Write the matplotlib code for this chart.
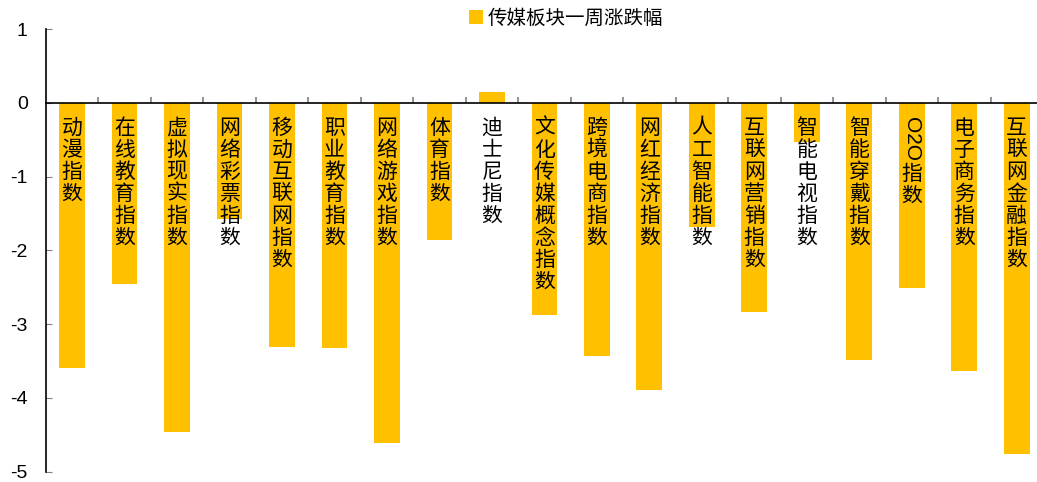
import matplotlib.pyplot as plt
import numpy as np
from matplotlib.patches import Patch

plt.rcParams['font.family'] = ['Noto Sans CJK SC', 'DejaVu Sans']

categories = ['动漫指数', '在线教育指数', '虚拟现实指数', '网络彩票指数', '移动互联网指数',
              '职业教育指数', '网络游戏指数', '体育指数', '迪士尼指数', '文化传媒概念指数',
              '跨境电商指数', '网红经济指数', '人工智能指数', '互联网营销指数', '智能电视指数',
              '智能穿戴指数', 'O2O指数', '电子商务指数', '互联网金融指数']
values = [-3.60, -2.46, -4.46, -1.58, -3.31, -3.33, -4.61, -1.86, 0.15, -2.88,
          -3.43, -3.89, -1.68, -2.84, -0.53, -3.49, -2.51, -3.63, -4.76]
series_name = '传媒板块一周涨跌幅'
yticks = [1, 0, -1, -2, -3, -4, -5]

bar_color = '#FFC000'

fig = plt.figure(figsize=(10.37, 4.82), dpi=100)
ax = fig.add_axes([0.0441, 0.0214, 0.9617, 0.9184])

x = np.arange(len(categories))
ax.bar(x, values, width=0.49, color=bar_color, zorder=2)

ax.set_xlim(-0.5, len(categories) - 0.5)
ax.set_ylim(-5, 1)
ax.set_yticks(yticks)
ax.set_yticklabels([str(v) for v in yticks], fontfamily='Liberation Sans', fontsize=14)
ax.tick_params(axis='y', direction='in', length=4.5, color='#808080', pad=13)

# category axis sits on zero, ticks between categories
ax.spines['bottom'].set_position(('data', 0))
ax.spines['top'].set_visible(False)
ax.spines['right'].set_visible(False)
ax.spines['left'].set_linewidth(1.2)
ax.spines['bottom'].set_linewidth(1.2)
ax.set_xticks(np.arange(0.5, len(categories), 1))
ax.set_xticklabels([])
ax.tick_params(axis='x', direction='in', length=4.5, color='#808080', width=1.2)

# vertical labels starting just under the zero line
lab_fs = 15
for i, name in enumerate(categories):
    off = -14
    if name.startswith('O2O'):
        ax.annotate('O2O', xy=(i, 0), xytext=(0, off), textcoords='offset pixels',
                    rotation=-90, ha='center', va='top', fontsize=lab_fs,
                    fontfamily='Liberation Sans', zorder=3)
        off -= 46
        name = name[3:]
    ax.annotate('\n'.join(name), xy=(i, 0), xytext=(0, off), textcoords='offset pixels',
                ha='center', va='top', fontsize=lab_fs, linespacing=1.0, zorder=3)

handle = Patch(facecolor=bar_color, edgecolor='none')
fig.legend([handle], [series_name], loc='center', bbox_to_anchor=(566 / 1037, 1 - 18 / 482),
           frameon=False, fontsize=14, handlelength=0.72, handleheight=0.72,
           handletextpad=0.2, borderpad=0)

fig.savefig('out.png', dpi=100)
